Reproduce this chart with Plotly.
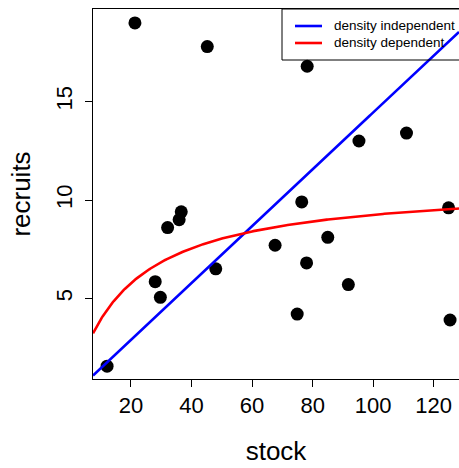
import numpy as np
import plotly.graph_objects as go

# observed stock / recruits
stock = [21.3, 45.2, 36.6, 35.9, 32.1, 78.2, 95.3, 111.0, 76.4, 124.9,
         85.0, 12.1, 28.0, 29.7, 48.0, 67.6, 78.0, 91.8, 74.9, 125.4]
recruits = [19.0, 17.8, 9.4, 9.0, 8.6, 16.8, 13.0, 13.4, 9.9, 9.6,
            8.1, 1.55, 5.85, 5.05, 6.5, 7.7, 6.8, 5.7, 4.2, 3.9]

# fitted model parameters
a_indep = 0.1445          # R = a*S
a_dep, b_dep = 0.614, 0.0564   # R = a*S/(1+b*S)

legend_labels = ["density independent", "density dependent"]
legend_colors = ["#0000FF", "#FF0000"]

x_range = [7.45, 128.35]
y_range = [0.9, 19.71]
x_ticks = [20, 40, 60, 80, 100, 120]
y_ticks = [5, 10, 15]

S = np.linspace(x_range[0], x_range[1], 300)
R_indep = a_indep * S
R_dep = a_dep * S / (1 + b_dep * S)

FONT = "Liberation Sans, Arial, Helvetica, sans-serif"

# plot-area geometry in pixels (for the hand-drawn legend box)
L, T, W, H = 93, 9, 366, 370


def px(x):
    return (x - L) / W


def py(y):
    return (T + H - y) / H


fig = go.Figure()
fig.add_trace(go.Scatter(x=stock, y=recruits, mode="markers",
                         marker=dict(size=13, color="black"), showlegend=False))
fig.add_trace(go.Scatter(x=S, y=R_indep, mode="lines", name=legend_labels[0],
                         line=dict(color=legend_colors[0], width=2.6), showlegend=False))
fig.add_trace(go.Scatter(x=S, y=R_dep, mode="lines", name=legend_labels[1],
                         line=dict(color=legend_colors[1], width=2.6), showlegend=False))

# legend box (extends past the right edge, as in the reference)
fig.add_shape(type="rect", xref="paper", yref="paper",
              x0=px(282), x1=px(480), y0=py(60), y1=py(9),
              line=dict(color="black", width=1), fillcolor="rgba(0,0,0,0)",
              layer="above")
for i, (lab, col) in enumerate(zip(legend_labels, legend_colors)):
    yy = 26 + 17 * i
    fig.add_shape(type="line", xref="paper", yref="paper",
                  x0=px(295), x1=px(322), y0=py(yy), y1=py(yy),
                  line=dict(color=col, width=2.6), layer="above")
    fig.add_annotation(xref="paper", yref="paper", x=px(332), y=py(yy),
                       xanchor="left", yanchor="middle", text=lab, showarrow=False,
                       font=dict(size=13.5, color="black"))

fig.update_layout(
    width=459, height=468,
    margin=dict(l=93, r=0, t=9, b=89),
    paper_bgcolor="white", plot_bgcolor="white",
    font=dict(family=FONT, size=22, color="black"),
    showlegend=False,
)
fig.update_xaxes(range=x_range, tickvals=x_ticks, showgrid=False, zeroline=False,
                 showline=True, linecolor="black", linewidth=1, mirror=True,
                 ticks="outside", ticklen=7, tickcolor="black",
                 ticklabelstandoff=0,
                 title=dict(text="stock", standoff=24))
fig.update_yaxes(range=y_range, tickvals=y_ticks, showgrid=False, zeroline=False,
                 showline=True, linecolor="black", linewidth=1, mirror=False,
                 ticks="outside", ticklen=7, tickcolor="black", tickangle=-90,
                 ticklabelstandoff=4,
                 title=dict(text="recruits", standoff=14))

fig.write_html("out.html")
